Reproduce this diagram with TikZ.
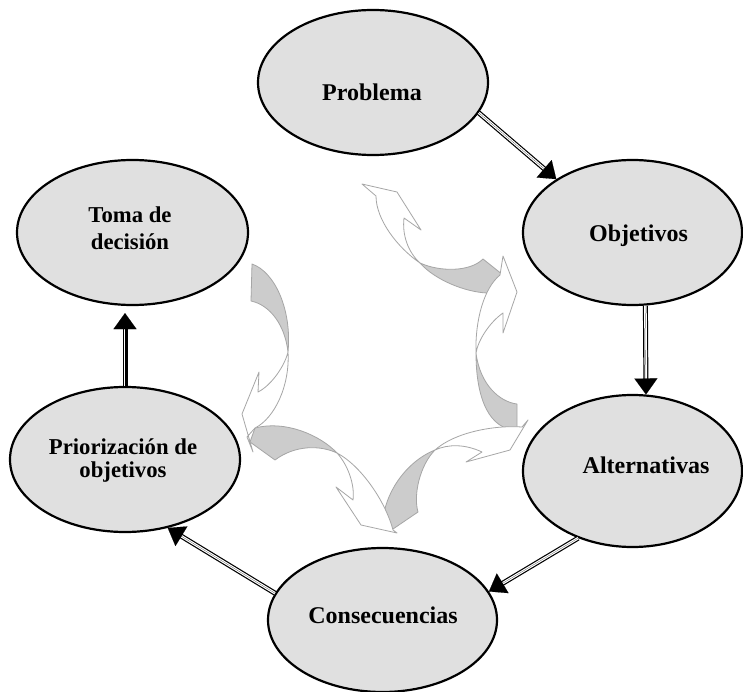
\documentclass[tikz,border=0pt]{standalone}
\usepackage{fontspec}
\setmainfont{Liberation Serif}
\usetikzlibrary{shapes.geometric,arrows.meta,calc}
\definecolor{ellfill}{HTML}{E0E0E0}
\definecolor{ribbon}{HTML}{CCCCCC}
\definecolor{ribline}{HTML}{A6A6A6}
\begin{document}
\begin{tikzpicture}[x=1pt,y=-1pt,
 ell/.style={ellipse, draw=black, line width=2.2pt, fill=ellfill, inner sep=0pt},
 lbl/.style={font=\bfseries\fontsize{24}{28}\selectfont, anchor=base, inner sep=0pt},
 lbls/.style={font=\bfseries\fontsize{22.7}{26}\selectfont, anchor=base, inner sep=0pt},
 shaft/.style={draw=black, line width=1.2pt, double=white, double distance=2.6pt},
 head/.style={draw=black, line width=0.1pt, -{Triangle[length=16pt,width=23pt]}},
 rib/.style={draw=ribline, line width=0.8pt, line join=round},
 ribg/.style={rib, fill=ribbon},
 ribw/.style={rib, fill=white}]

\useasboundingbox (0,0) rectangle (743,692);
\fill[white] (0,0) rectangle (743,692);

% ---- central curved ribbon arrows ----
% A (top)
\filldraw[ribg] (420,263) .. controls (440,272) and (470,272) .. (483,259) -- (503,275) -- (487,293) .. controls (465,292) and (435,280) .. cycle;
\filldraw[ribw] (362,184) -- (397,192) -- (421,230) -- (404,218) .. controls (402,235) and (408,252) .. (420,263) .. controls (398,248) and (376,220) .. (376,196) -- cycle;
% B (right)
\filldraw[ribg] (476,353) .. controls (480,385) and (500,402) .. (517,404) -- (517,430) .. controls (490,430) and (476,400) .. cycle;
\filldraw[ribw] (503,256) -- (517,292) -- (503,333) -- (503,313) .. controls (490,322) and (478,340) .. (476,353) .. controls (475,320) and (484,288) .. (500,275) -- cycle;
% C (bottom right)
\filldraw[ribg] (435,450) .. controls (420,465) and (413,495) .. (418,512) -- (393,529) -- (383,522) .. controls (384,495) and (405,462) .. cycle;
\filldraw[ribw] (528,420) -- (510,450) -- (466,462) -- (482,452) .. controls (465,444) and (448,444) .. (435,450) .. controls (455,432) and (495,425) .. (522,427) -- cycle;
% E (bottom left)
\filldraw[ribg] (255,428) .. controls (285,420) and (320,435) .. (337,453) .. controls (320,445) and (295,445) .. (275,460) -- (250,442) -- cycle;
\filldraw[ribw] (397,533) -- (361,525) -- (336,487) -- (353,500) .. controls (355,485) and (348,465) .. (337,453) .. controls (360,465) and (385,500) .. (393,530) -- cycle;
% F (left)
\filldraw[ribg] (252,264) .. controls (275,272) and (292,310) .. (288,352) .. controls (285,325) and (270,305) .. (251,301) -- cycle;
\filldraw[ribw] (253,452) -- (242,414) -- (259,372) -- (258,392) .. controls (272,385) and (285,365) .. (288,352) .. controls (290,385) and (275,418) .. (255,428) -- (247,437) -- cycle;

% ---- ellipses ----
\node[ell, minimum width=230pt, minimum height=145pt] (prob) at (373,82.5) {};
\node[ell, minimum width=219pt, minimum height=145pt] (obj) at (632.5,232.5) {};
\node[ell, minimum width=219pt, minimum height=152pt] (alt) at (632.5,471) {};
\node[ell, minimum width=229pt, minimum height=144pt] (cons) at (382.5,620) {};
\node[ell, minimum width=230pt, minimum height=145pt] (prio) at (125,459.5) {};
\node[ell, minimum width=231pt, minimum height=145pt] (toma) at (132.5,232.5) {};

% ---- labels ----
\node[lbl] (probT) at (372,101) {Problema};
\node[lbl] (objT) at (638.5,242) {Objetivos};
\node[lbl] (altT) at (646,473) {Alternativas};
\node[lbl] (consT) at (383,623) {Consecuencias};
\node[lbls] (tomaT1) at (130,223) {Toma de};
\node[lbls] (tomaT2) at (130,250) {decisión};
\node[lbls] (prioT1) at (123,454) {Priorización de};
\node[lbls] (prioT2) at (123,477) {objetivos};

% ---- connectors ----
\draw[shaft, shorten >=12pt] (prob.-16) -- (obj.145);
\draw[head] (prob.-16) -- (obj.145);
\draw[shaft, shorten >=12pt] (obj.-80) -- (alt.80);
\draw[head] (obj.-80) -- (alt.80);
\draw[shaft, shorten >=12pt] (alt.231) -- (cons.15.6);
\draw[head] (alt.231) -- (cons.15.6);
\draw[shaft, shorten >=12pt] (cons.166.7) -- (prio.-58);
\draw[head] (cons.166.7) -- (prio.-58);
\coordinate (tomaIn) at ($(toma.south -| prio.north)+(0,7)$);
\draw[shaft, shorten >=12pt] (prio.north) -- (tomaIn);
\draw[head] (prio.north) -- (tomaIn);
\end{tikzpicture}
\end{document}
